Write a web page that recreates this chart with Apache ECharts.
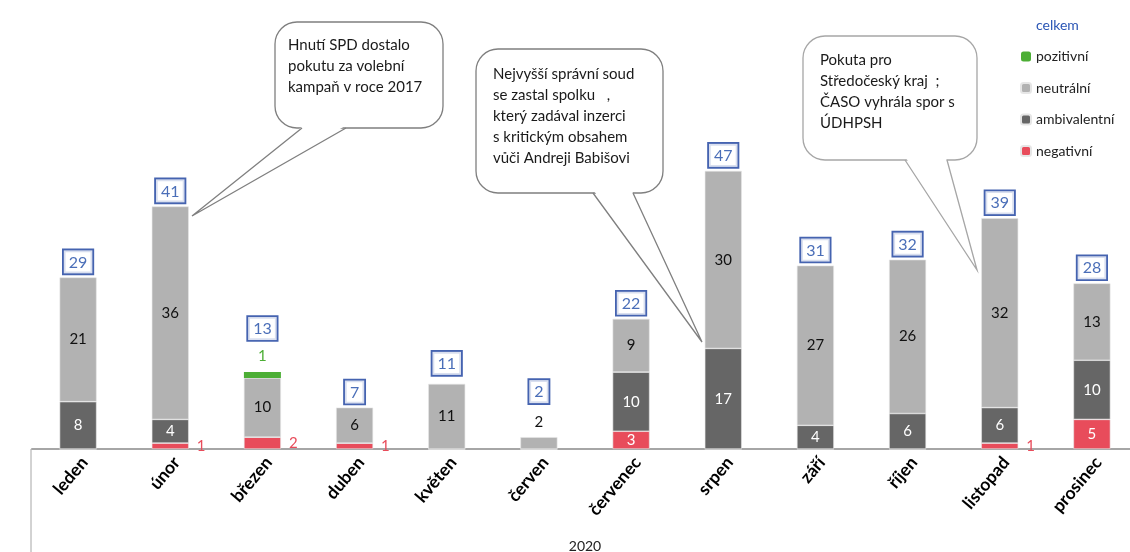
<!DOCTYPE html>
<html>
<head>
<meta charset="utf-8">
<script src="https://cdn.jsdelivr.net/npm/echarts@6/dist/echarts.min.js"></script>
<style>
  html, body { margin: 0; padding: 0; background: #fff; }
  #chart { width: 1130px; height: 552px; }
</style>
</head>
<body>
<div id="chart"></div>
<script>
const months = ["leden", "únor", "březen", "duben", "květen", "červen",
  "červenec", "srpen", "září", "říjen", "listopad", "prosinec"];
const negativni = [0, 1, 2, 1, 0, 0, 3, 0, 0, 0, 1, 5];
const ambivalentni = [8, 4, 0, 0, 0, 0, 10, 17, 4, 6, 6, 10];
const neutralni = [21, 36, 10, 6, 11, 2, 9, 30, 27, 26, 32, 13];
const pozitivni = [0, 0, 1, 0, 0, 0, 0, 0, 0, 0, 0, 0];
const celkem = [29, 41, 13, 7, 11, 2, 22, 47, 31, 32, 39, 28];

const FONT = "Lato";
const RED = "#e84c5b", DARK = "#666666", LIGHT = "#b2b2b2", GREEN = "#4cae35", BLUE = "#1d4aa6";

// extra lift of the total box where something sits above the bar
const boxLift = { "březen": 32, "červen": 34, "květen": 9 };

function segLabel(v, insideColor, outside) {
  if (!v) return { show: false };
  if (outside && v < 3) return Object.assign({ show: true }, outside);
  return { show: true, position: "inside", color: insideColor };
}

// speech bubble: rounded box + tail from the bottom edge to a tip
function bubble(x0, y0, x1, y1, b1, b2, tx, ty, stroke) {
  return [
    { type: "rect", z: 50, shape: { x: x0, y: y0, width: x1 - x0, height: y1 - y0, r: 22 },
      style: { fill: "#fff", stroke: stroke, lineWidth: 1.3 } },
    { type: "polygon", z: 51, shape: { points: [[b1 + 1, y1 - 2], [b2 - 1, y1 - 2], [tx, ty]] },
      style: { fill: "#fff" } },
    { type: "polyline", z: 52, shape: { points: [[b1, y1], [tx, ty], [b2, y1]] },
      style: { fill: null, stroke: stroke, lineWidth: 1.3 } }
  ];
}

const noteText = { fill: "#1a1a1a", fontFamily: FONT, fontSize: 15, lineHeight: 21 };

const chart = echarts.init(document.getElementById("chart"));

chart.setOption({
  animation: false,
  textStyle: { fontFamily: FONT },
  grid: { left: 32, right: -8, top: 94, bottom: 103, containLabel: false, outerBoundsMode: "none" },
  legend: {
    orient: "vertical",
    left: 1015,
    top: 12,
    itemWidth: 10,
    itemHeight: 10,
    itemGap: 15.5,
    textStyle: { fontSize: 14, color: "#222", lineHeight: 16 },
    data: [
      { name: "celkem", itemStyle: { color: "rgba(0,0,0,0)", opacity: 0 }, textStyle: { color: "#2a55b5" } },
      "pozitivní", "neutrální", "ambivalentní", "negativní"
    ]
  },
  xAxis: {
    type: "category",
    data: months,
    name: "2020",
    nameLocation: "middle",
    nameGap: 90,
    nameTextStyle: { fontSize: 14, color: "#222" },
    axisLine: { lineStyle: { color: "#a6a6a6", width: 2 } },
    axisTick: { show: false },
    axisLabel: { rotate: 50, margin: 18, padding: [0, -10, 0, 0], fontSize: 17.5, fontWeight: "bold", color: "#000" }
  },
  yAxis: { type: "value", min: 0, max: 60, show: false, splitLine: { show: false } },
  series: [
    {
      name: "negativní", type: "bar", stack: "a", barWidth: 37,
      itemStyle: { color: RED, borderColor: "#e6e6e6", borderWidth: 0.6 },
      label: { fontSize: 15 },
      data: negativni.map(v => ({ value: v,
        label: segLabel(v, "#fff", { position: "right", distance: 8, color: RED }) }))
    },
    {
      name: "ambivalentní", type: "bar", stack: "a",
      itemStyle: { color: DARK, borderColor: "#e6e6e6", borderWidth: 0.6 },
      label: { fontSize: 15 },
      data: ambivalentni.map(v => ({ value: v, label: segLabel(v, "#fff") }))
    },
    {
      name: "neutrální", type: "bar", stack: "a",
      itemStyle: { color: LIGHT, borderColor: "#e6e6e6", borderWidth: 0.6 },
      label: { fontSize: 15 },
      data: neutralni.map(v => ({ value: v,
        label: segLabel(v, "#111", { position: "top", distance: 8, color: "#111" }) }))
    },
    {
      name: "pozitivní", type: "bar", stack: "a",
      itemStyle: { color: GREEN },
      label: { fontSize: 15 },
      data: pozitivni.map(v => ({ value: v,
        label: segLabel(v, "#fff", { position: "top", distance: 8, color: GREEN }) }))
    },
    {
      name: "celkem", type: "scatter", symbolSize: 0.1,
      itemStyle: { color: "rgba(0,0,0,0)" },
      label: {
        show: true, position: "top", distance: 4,
        color: BLUE, fontSize: 16, padding: [4, 5, 3, 5],
        borderColor: "#163c9c", borderWidth: 1.8, backgroundColor: "#fff"
      },
      data: celkem.map((v, i) => ({ value: v,
        label: { distance: boxLift[months[i]] || 4 } }))
    }
  ],
  graphic: [
    { type: "line", shape: { x1: 31, y1: 449, x2: 31, y2: 552 }, style: { stroke: "#a6a6a6", lineWidth: 1 } }
  ].concat(
    bubble(275, 22, 443, 128, 302, 346, 192, 216, "#7f7f7f"),
    [{ type: "text", z: 53, left: 288, top: 35,
      style: Object.assign({ text: "Hnutí SPD dostalo\npokutu za volební\nkampaň v roce 2017" }, noteText) }],
    bubble(476, 49, 663, 193, 593, 633, 702, 342, "#7f7f7f"),
    [{ type: "text", z: 53, left: 493, top: 64,
      style: Object.assign({ text: "Nejvyšší správní soud\nse zastal spolku   ,\nkterý zadával inzerci\ns kritickým obsahem\nvůči Andreji Babišovi" }, noteText) }],
    bubble(803, 36, 977, 160, 905, 947, 977, 270, "#a6a6a6"),
    [{ type: "text", z: 53, left: 820, top: 50,
      style: Object.assign({ text: "Pokuta pro\nStředočeský kraj  ;\nČASO vyhrála spor s\nÚDHPSH" }, noteText) }]
  )
});
</script>
</body>
</html>
